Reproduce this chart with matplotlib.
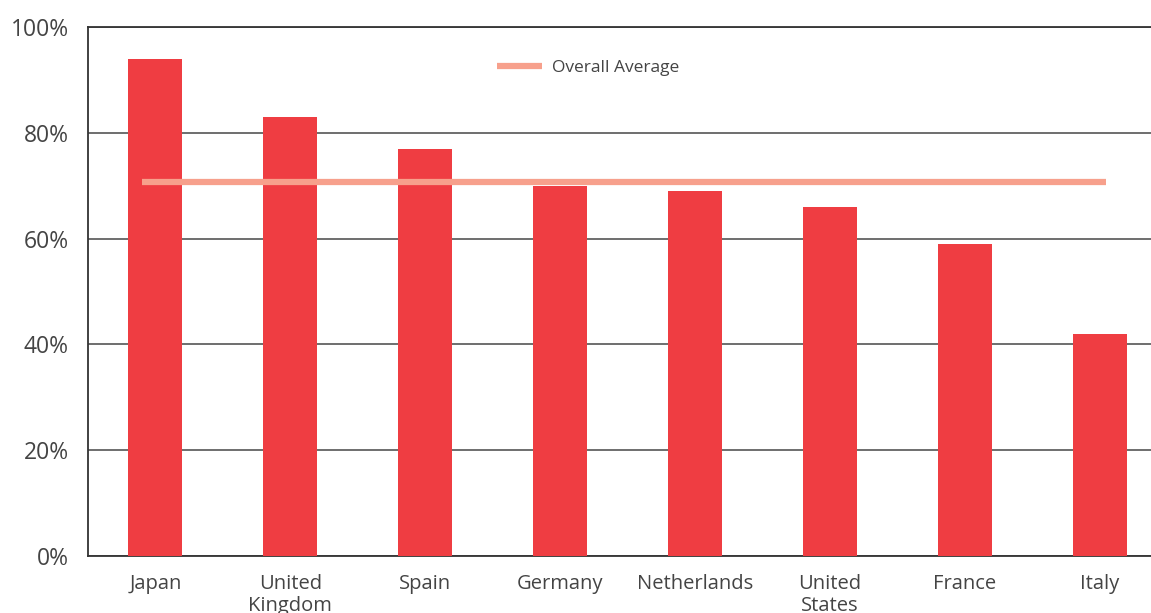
import matplotlib
matplotlib.use("Agg")
import matplotlib.pyplot as plt
from matplotlib.ticker import FuncFormatter

categories = ["Japan", "United\nKingdom", "Spain", "Germany", "Netherlands", "United\nStates", "France", "Italy"]
values = [94, 83, 77, 70, 69, 66, 59, 42]
overall_average = 70.7
yticks = [0, 20, 40, 60, 80, 100]

plt.rcParams['font.family'] = ['Open Sans', 'DejaVu Sans']

fig = plt.figure(figsize=(11.51, 6.13), dpi=100)
ax = fig.add_axes([88/1151, 57/613, 1 - 88/1151, (556-27)/613])

x = list(range(len(categories)))
ax.bar(x, values, width=0.4, color="#EF3D42", zorder=3)
ax.plot([-0.1, 7.05], [overall_average, overall_average], color="#F7A08C", lw=4.5,
        solid_capstyle="butt", zorder=4, label="Overall Average")

ax.set_xlim(-0.5, 7.38)
ax.set_ylim(0, 100)
ax.set_yticks(yticks)
ax.yaxis.set_major_formatter(FuncFormatter(lambda v, p: f"{int(v)}%"))
ax.grid(axis="y", color="#555555", lw=1.2, zorder=1)
ax.set_xticks(x)
ax.set_xticklabels(categories, fontsize=14.5, color="#444444", linespacing=1.12)
for lab in ax.get_yticklabels():
    lab.set_fontsize(16.5)
    lab.set_color("#444444")
ax.tick_params(axis="both", length=0)
ax.tick_params(axis="x", pad=13)
ax.tick_params(axis="y", pad=14)

for s in ["right"]:
    ax.spines[s].set_visible(False)
for s in ["left", "bottom", "top"]:
    ax.spines[s].set_color("#333333")
    ax.spines[s].set_linewidth(1.3)

leg = ax.legend(loc="upper left", bbox_to_anchor=(0.370, 0.968), frameon=False,
                fontsize=12.5, handlelength=2.6, handletextpad=0.6)
for t in leg.get_texts():
    t.set_color("#444444")

fig.savefig("out.png", dpi=100)
